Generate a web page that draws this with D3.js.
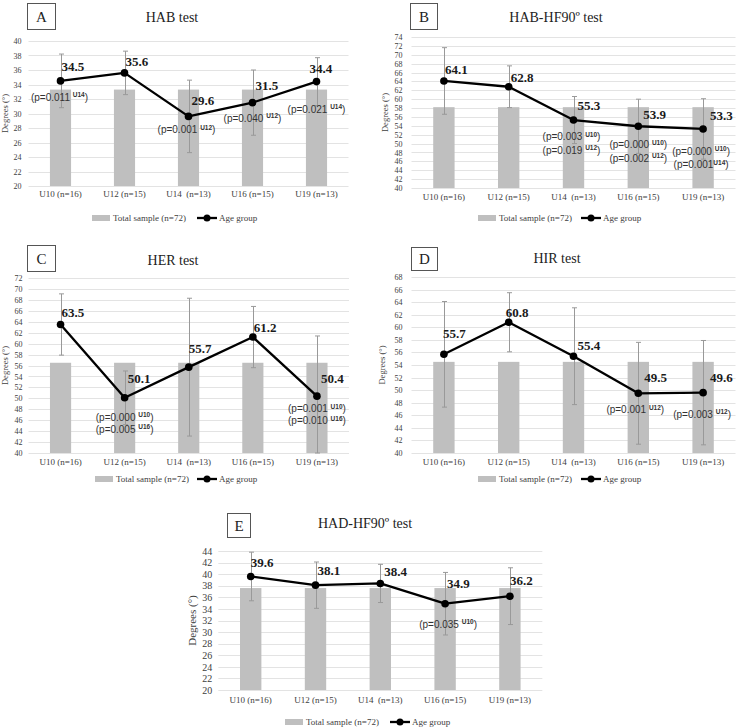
<!DOCTYPE html>
<html><head><meta charset="utf-8">
<script src="https://cdn.jsdelivr.net/npm/d3@7"></script>
<style>body{margin:0;background:#fff} text{white-space:pre}</style>
</head><body>
<svg id="c" width="738" height="727"></svg>
<script>
// ---------- DATA ----------
const categories = ["U10 (n=16)", "U12 (n=15)", "U14  (n=13)", "U16 (n=15)", "U19 (n=13)"];
const legendLabels = ["Total sample (n=72)", "Age group"];
const yAxisTitle = "Degrees (°)";

const habTitle = "HAB test";
const habMeans = [34.5, 35.6, 29.6, 31.5, 34.4];
const habSD = [3.7, 3.0, 5.0, 4.5, 3.3];
const habTotal = 33.3;
const habP = [[["p=0.011 ", "U14"]], [], [["p=0.001 ", "U12"]], [["p=0.040 ", "U12"]], [["p=0.021 ", "U14"]]];

const habfTitle = "HAB-HF90º test";
const habfMeans = [64.1, 62.8, 55.3, 53.9, 53.3];
const habfSD = [7.5, 4.7, 5.3, 6.1, 6.8];
const habfTotal = 58.2;
const habfP = [[], [], [["p=0.003 ", "U10"], ["p=0.019 ", "U12"]], [["p=0.000 ", "U10"], ["p=0.002 ", "U12"]], [["p=0.000 ", "U10"], ["p=0.001", "U14"]]];

const herTitle = "HER test";
const herMeans = [63.5, 50.1, 55.7, 61.2, 50.4];
const herSD = [5.6, 4.9, 12.6, 5.6, 11.0];
const herTotal = 56.5;
const herP = [[], [["p=0.000 ", "U10"], ["p=0.005 ", "U16"]], [], [], [["p=0.001 ", "U10"], ["p=0.010 ", "U16"]]];

const hirTitle = "HIR test";
const hirMeans = [55.7, 60.8, 55.4, 49.5, 49.6];
const hirSD = [8.4, 4.7, 7.7, 8.1, 8.3];
const hirTotal = 54.5;
const hirP = [[], [], [], [["p=0.001 ", "U12"]], [["p=0.003 ", "U12"]]];

const hadTitle = "HAD-HF90º test";
const hadMeans = [39.6, 38.1, 38.4, 34.9, 36.2];
const hadSD = [4.2, 4.0, 3.3, 5.4, 4.9];
const hadTotal = 37.6;
const hadP = [[], [], [], [["p=0.035 ", "U10"]], []];

// ---------- LAYOUT ----------
const panels = [
  {letter:"A", title:habTitle, means:habMeans, sd:habSD, total:habTotal, p:habP, domain:[20,40],
   x0:28.5, x1:348.5, yTop:41, yBot:186, tickPad:7, yTickSize:8, box:[27,3,28,26], titleX:172, titleY:22, titleSize:14,
   yTitleX:8, yTitleSize:8.5, xLabelY:197, legendY:218, legendRect:92, legendLine:197,
   labelNudge:[[1,-10],[1,-7],[3,-11],[3,-13],[-7,-9]], pNudge:[[-1,20],[0,0],[-2,17],[0,19],[0,31]], pLineH:13},
  {letter:"B", title:habfTitle, means:habfMeans, sd:habfSD, total:habfTotal, p:habfP, domain:[40,74],
   x0:411.5, x1:735.5, yTop:37, yBot:188, tickPad:9, yTickSize:8, box:[410,3,27,26], titleX:556, titleY:22, titleSize:14,
   yTitleX:388, yTitleSize:8.5, xLabelY:200, legendY:218, legendRect:478, legendLine:581,
   labelNudge:[[1,-7],[2,-5],[4,-10],[5,-7],[7,-9]], pNudge:[[0,0],[0,0],[-2,20],[0,22],[-2,26]], pLineH:13.5},
  {letter:"C", title:herTitle, means:herMeans, sd:herSD, total:herTotal, p:herP, domain:[40,72],
   x0:28.5, x1:349, yTop:278, yBot:453, tickPad:6, yTickSize:8, box:[27,245,28,26], titleX:173, titleY:265, titleSize:14,
   yTitleX:8, yTitleSize:8.5, xLabelY:465, legendY:479, legendRect:95, legendLine:197,
   labelNudge:[[1,-7],[3,-15],[0,-14],[1,-5],[4,-13]], pNudge:[[0,0],[0,23],[0,0],[0,0],[0,16]], pLineH:12},
  {letter:"D", title:hirTitle, means:hirMeans, sd:hirSD, total:hirTotal, p:hirP, domain:[40,68],
   x0:411.5, x1:735.5, yTop:277, yBot:453, tickPad:9, yTickSize:8, box:[411,247,26,23], titleX:557, titleY:263, titleSize:14,
   yTitleX:385, yTitleSize:8.5, xLabelY:465, legendY:479, legendRect:478, legendLine:581,
   labelNudge:[[-1,-16],[-3,-5],[4,-6],[6,-11],[7,-11]], pNudge:[[0,0],[0,0],[0,0],[-3,20],[-1,25]], pLineH:13},
  {letter:"E", title:hadTitle, means:hadMeans, sd:hadSD, total:hadTotal, p:hadP, domain:[20,44],
   x0:218.3, x1:542.3, yTop:551, yBot:690, tickPad:6, yTickSize:10, box:[227,513,23,24], titleX:365, titleY:528, titleSize:14,
   yTitleX:196, yTitleSize:11, xLabelY:703, legendY:722, legendRect:285, legendLine:390,
   labelNudge:[[0,-9],[2,-10],[4,-7],[2,-16],[0,-11]], pNudge:[[0,0],[0,0],[0,0],[3,24],[0,0]], pLineH:13}
];

const SERIF = "'Liberation Serif','Times New Roman',serif";
const SANS = "'Liberation Sans',Arial,sans-serif";

const svg = d3.select("#c");
svg.append("rect").attr("width",738).attr("height",727).attr("fill","#fff");

function drawPanel(P) {
  const g = svg.append("g");
  const x = d3.scaleBand().domain(categories).range([P.x0, P.x1]);
  const y = d3.scaleLinear().domain(P.domain).range([P.yBot, P.yTop]);
  const ticks = d3.range(P.domain[0], P.domain[1] + 0.001, 2);
  const cx = d => x(d) + x.bandwidth() / 2;

  // grid
  g.append("g").selectAll("line").data(ticks).join("line")
    .attr("x1", P.x0).attr("x2", P.x1)
    .attr("y1", d => Math.round(y(d)) + 0.5).attr("y2", d => Math.round(y(d)) + 0.5)
    .attr("stroke", "#dcdcdc").attr("stroke-width", 0.8);

  // y axis
  const ya = g.append("g").attr("transform", `translate(${P.x0},0)`)
    .call(d3.axisLeft(y).tickValues(ticks).tickSize(0).tickPadding(P.tickPad));
  ya.select(".domain").remove();
  ya.selectAll("text").attr("font-family", SERIF).attr("font-size", P.yTickSize).attr("fill", "#404040");

  // x axis
  const xa = g.append("g").attr("transform", `translate(0,${P.yBot})`)
    .call(d3.axisBottom(x).tickSize(0));
  xa.select(".domain").remove();
  xa.selectAll("text").attr("font-family", SERIF).attr("font-size", 9).attr("fill", "#404040")
    .attr("y", P.xLabelY - P.yBot).attr("dy", 0);

  // y title
  g.append("text").attr("transform", `translate(${P.yTitleX},${(P.yTop + P.yBot) / 2}) rotate(-90)`)
    .attr("text-anchor", "middle").attr("font-family", SERIF).attr("font-size", P.yTitleSize)
    .attr("fill", "#404040").text(yAxisTitle);

  // bars (total sample)
  const bw = x.bandwidth() * 0.33;
  g.append("g").selectAll("rect").data(categories).join("rect")
    .attr("x", d => cx(d) - bw / 2).attr("width", bw)
    .attr("y", y(P.total)).attr("height", P.yBot - y(P.total))
    .attr("fill", "#bfbfbf");

  // error bars
  const eb = g.append("g").attr("stroke", "#999").attr("stroke-width", 1);
  categories.forEach((c, i) => {
    const hi = y(Math.min(P.domain[1], P.means[i] + P.sd[i]));
    const lo = y(Math.max(P.domain[0], P.means[i] - P.sd[i]));
    const xc = Math.round(cx(c)) + 0.5;
    eb.append("line").attr("x1", xc).attr("x2", xc).attr("y1", hi).attr("y2", lo);
    eb.append("line").attr("x1", xc - 2.5).attr("x2", xc + 2.5).attr("y1", hi).attr("y2", hi);
    eb.append("line").attr("x1", xc - 2.5).attr("x2", xc + 2.5).attr("y1", lo).attr("y2", lo);
  });

  // line
  const line = d3.line().x((d, i) => cx(categories[i])).y(d => y(d));
  g.append("path").datum(P.means).attr("d", line).attr("fill", "none")
    .attr("stroke", "#000").attr("stroke-width", 2.3).attr("stroke-linejoin", "round");
  g.append("g").selectAll("circle").data(P.means).join("circle")
    .attr("cx", (d, i) => cx(categories[i])).attr("cy", d => y(d)).attr("r", 3.8).attr("fill", "#000");

  // value labels
  g.append("g").selectAll("text").data(P.means).join("text")
    .attr("x", (d, i) => cx(categories[i]) + P.labelNudge[i][0])
    .attr("y", (d, i) => y(d) + P.labelNudge[i][1])
    .attr("font-family", SERIF).attr("font-weight", "bold").attr("font-size", 13).attr("fill", "#1a1a1a")
    .text(d => d.toFixed(1));

  // p-values
  P.p.forEach((lines, i) => {
    lines.forEach((ln, k) => {
      const t = g.append("text")
        .attr("x", cx(categories[i]) + P.pNudge[i][0])
        .attr("y", y(P.means[i]) + P.pNudge[i][1] + k * P.pLineH)
        .attr("text-anchor", "middle").attr("font-family", SANS).attr("font-size", 10).attr("fill", "#333");
      t.append("tspan").text("(" + ln[0]);
      t.append("tspan").attr("font-size", 6.5).attr("font-weight", "bold").attr("dy", -3.5).text(ln[1]);
      t.append("tspan").attr("dy", 3.5).text(")");
    });
  });

  // letter box & title
  g.append("rect").attr("x", P.box[0] + 0.5).attr("y", P.box[1] + 0.5).attr("width", P.box[2]).attr("height", P.box[3])
    .attr("fill", "#fff").attr("stroke", "#555").attr("stroke-width", 1);
  g.append("text").attr("x", P.box[0] + P.box[2] / 2 + 0.5).attr("y", P.box[1] + P.box[3] / 2 + 5.5)
    .attr("text-anchor", "middle").attr("font-family", SERIF).attr("font-size", 15).attr("fill", "#222").text(P.letter);
  g.append("text").attr("x", P.titleX).attr("y", P.titleY).attr("text-anchor", "middle")
    .attr("font-family", SERIF).attr("font-size", P.titleSize).attr("fill", "#222").text(P.title);

  // legend
  const L = g.append("g");
  L.append("rect").attr("x", P.legendRect).attr("y", P.legendY - 3).attr("width", 18).attr("height", 6).attr("fill", "#bfbfbf");
  L.append("text").attr("x", P.legendRect + 21).attr("y", P.legendY + 3).attr("font-family", SERIF)
    .attr("font-size", 9).attr("fill", "#404040").text(legendLabels[0]);
  L.append("line").attr("x1", P.legendLine).attr("x2", P.legendLine + 20).attr("y1", P.legendY).attr("y2", P.legendY)
    .attr("stroke", "#000").attr("stroke-width", 2.3);
  L.append("circle").attr("cx", P.legendLine + 10).attr("cy", P.legendY).attr("r", 3.5).attr("fill", "#000");
  L.append("text").attr("x", P.legendLine + 22).attr("y", P.legendY + 3).attr("font-family", SERIF)
    .attr("font-size", 9).attr("fill", "#404040").text(legendLabels[1]);
}

panels.forEach(drawPanel);
</script>
</body></html>
